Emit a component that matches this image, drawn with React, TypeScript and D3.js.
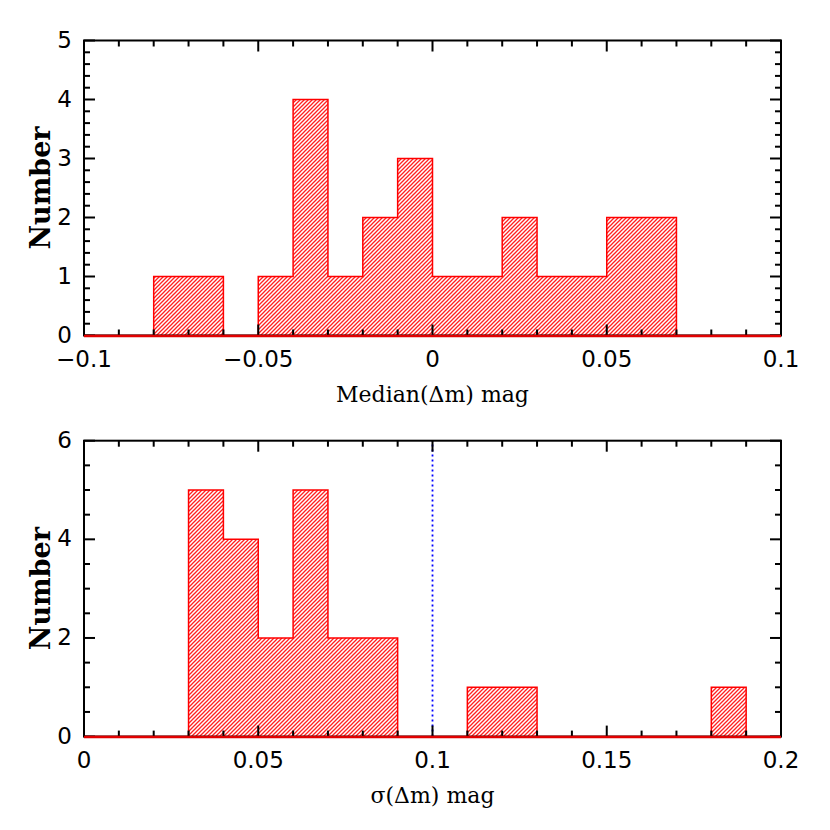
import React from 'react'
import * as d3 from 'd3'

// histogram counts, bins of width 0.01
const medianBinStart = -0.1
const medianCounts = [0, 0, 1, 1, 0, 1, 4, 1, 2, 3, 1, 1, 2, 1, 1, 2, 2, 0, 0, 0]
const medianTicks = [-0.1, -0.05, 0, 0.05, 0.1]
const medianTickLabels = ['\u22120.1', '\u22120.05', '0', '0.05', '0.1']

const sigmaBinStart = 0
const sigmaCounts = [0, 0, 0, 5, 4, 2, 5, 2, 2, 0, 0, 1, 1, 0, 0, 0, 0, 0, 1, 0]
const sigmaTicks = [0, 0.05, 0.1, 0.15, 0.2]
const sigmaTickLabels = ['0', '0.05', '0.1', '0.15', '0.2']
const sigmaCut = 0.1

const binWidth = 0.01

type PanelProps = {
  top: number
  bottom: number
  xDomain: [number, number]
  yMax: number
  yMajor: number
  yMinor: number
  binStart: number
  counts: number[]
  xTicks: number[]
  xTickLabels: string[]
  xTitle: string
  vline?: number
}

const left = 84
const right = 781

function Panel(p: PanelProps) {
  const x = d3.scaleLinear().domain(p.xDomain).range([left, right])
  const y = d3.scaleLinear().domain([0, p.yMax]).range([p.bottom, p.top])

  const pts: [number, number][] = p.counts.map((c, i) => [p.binStart + i * binWidth, c])
  pts.push([p.binStart + p.counts.length * binWidth, p.counts[p.counts.length - 1]])

  const area = d3
    .area<[number, number]>()
    .x(d => x(d[0]))
    .y0(y(0))
    .y1(d => y(d[1]))
    .curve(d3.curveStepAfter)
  const line = d3
    .line<[number, number]>()
    .x(d => x(d[0]))
    .y(d => y(d[1]))
    .curve(d3.curveStepAfter)

  const minorX = d3.range(p.xDomain[0], p.xDomain[1] + 1e-9, binWidth)
  const majorY = d3.range(0, p.yMax + 1e-9, p.yMajor)
  const minorY = d3.range(0, p.yMax + 1e-9, p.yMinor)

  return (
    <g>
      <path d={area(pts) || ''} fill="url(#hatch)" />
      <path d={line(pts) || ''} fill="none" stroke="#ff0000" strokeWidth={1.5} />
      {p.vline !== undefined && (
        <line
          x1={x(p.vline)}
          x2={x(p.vline)}
          y1={y(0)}
          y2={y(p.yMax)}
          stroke="#0000ff"
          strokeWidth={1.8}
          strokeDasharray="2,3"
        />
      )}
      {/* x ticks, bottom and top */}
      {minorX.map((v, i) => {
        const major = p.xTicks.some(t => Math.abs(t - v) < 1e-9)
        const len = major ? 11 : 6
        return (
          <g key={'xt' + i} stroke="#000" strokeWidth={2}>
            <line x1={x(v)} x2={x(v)} y1={p.bottom} y2={p.bottom - len} />
            <line x1={x(v)} x2={x(v)} y1={p.top} y2={p.top + len} />
          </g>
        )
      })}
      {minorY.map((v, i) => {
        const major = majorY.some(t => Math.abs(t - v) < 1e-9)
        const len = major ? 11 : 6
        return (
          <g key={'yt' + i} stroke="#000" strokeWidth={2}>
            <line x1={left} x2={left + len} y1={y(v)} y2={y(v)} />
            <line x1={right} x2={right - len} y1={y(v)} y2={y(v)} />
          </g>
        )
      })}
      <rect x={left} y={p.top} width={right - left} height={p.bottom - p.top} fill="none" stroke="#000" strokeWidth={2} />
      <line x1={left} x2={right} y1={y(0) + 0.5} y2={y(0) + 0.5} stroke="#e00000" strokeWidth={2.5} />
      {p.xTicks.map((v, i) => (
        <text key={'xl' + i} x={x(v)} y={p.bottom + 31} textAnchor="middle" fontSize={23} fontFamily="DejaVu Sans">
          {p.xTickLabels[i]}
        </text>
      ))}
      {majorY.map((v, i) => (
        <text key={'yl' + i} x={left - 12} y={y(v) + 7} textAnchor="end" fontSize={23} fontFamily="DejaVu Sans">
          {d3.format('d')(v)}
        </text>
      ))}
      <text x={(left + right) / 2} y={p.bottom + 66} textAnchor="middle" fontSize={22} fontFamily="DejaVu Serif">
        {p.xTitle}
      </text>
      <text
        transform={`translate(${50},${(p.top + p.bottom) / 2}) rotate(-90)`}
        textAnchor="middle"
        fontSize={27}
        fontWeight="bold"
        fontFamily="DejaVu Serif"
      >
        Number
      </text>
    </g>
  )
}

export default function App() {
  return (
    <div style={{ position: 'absolute', left: 0, top: 0 }}>
      <svg width={830} height={830} style={{ display: 'block', background: '#fff' }}>
        <defs>
          <pattern id="hatch" patternUnits="userSpaceOnUse" width={4} height={4}>
            <rect width={4} height={4} fill="#fff" />
            <path d="M-1,1 l2,-2 M0,4 l4,-4 M3,5 l2,-2" stroke="#ff2020" strokeWidth={1.3} />
          </pattern>
        </defs>
        <Panel
          top={40.5}
          bottom={335.5}
          xDomain={[-0.1, 0.1]}
          yMax={5}
          yMajor={1}
          yMinor={0.2}
          binStart={medianBinStart}
          counts={medianCounts}
          xTicks={medianTicks}
          xTickLabels={medianTickLabels}
          xTitle={'Median(\u0394m) mag'}
        />
        <Panel
          top={440.7}
          bottom={736.6}
          xDomain={[0, 0.2]}
          yMax={6}
          yMajor={2}
          yMinor={0.5}
          binStart={sigmaBinStart}
          counts={sigmaCounts}
          xTicks={sigmaTicks}
          xTickLabels={sigmaTickLabels}
          xTitle={'\u03c3(\u0394m) mag'}
          vline={sigmaCut}
        />
      </svg>
    </div>
  )
}
